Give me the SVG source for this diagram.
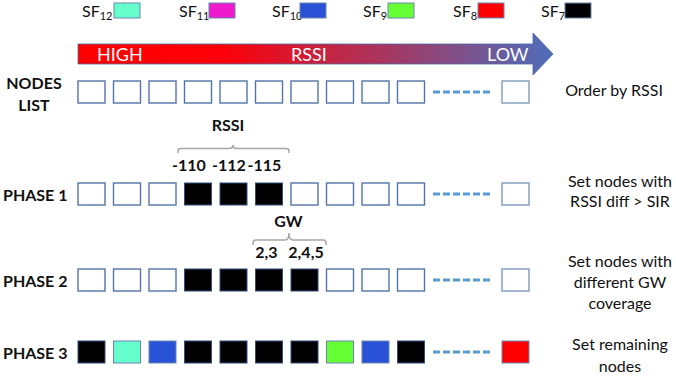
<svg xmlns="http://www.w3.org/2000/svg" width="676" height="377" viewBox="0 0 676 377">
<defs>
<linearGradient id="rssiGrad" gradientUnits="userSpaceOnUse" x1="78" y1="0" x2="553" y2="0">
<stop offset="0" stop-color="#FF0000"/>
<stop offset="0.3" stop-color="#FE0008"/>
<stop offset="1" stop-color="#4E6EBB"/>
</linearGradient>
<style>
text{font-family:Lato,"Liberation Sans",sans-serif;fill:#111}
.lbl{font-size:16px;font-weight:bold}
.desc{font-size:16px;text-anchor:middle}
.num{font-size:16px;font-weight:bold}
.sf{font-size:16px}
.sub{font-size:11px}
.arr{font-size:18px;fill:#fff}
.box{fill:#fff;stroke:#5274A8;stroke-width:1.4}
.last{fill:#fff;stroke:#8EA6C8;stroke-width:1.6}
.blk{fill:#000;stroke:#2F4F7F;stroke-width:1}
.leg{stroke:#6B85B0;stroke-width:1}
.dash{stroke:#5B9BD5;stroke-width:3;stroke-dasharray:7 3;fill:none}
.brace{stroke:#A6A6A6;stroke-width:1.5;fill:none}
</style>
</defs>

<g id="legend">
<g id="sf12"><text class="sf" x="82" y="17">SF<tspan class="sub" dy="3">12</tspan></text><rect class="leg" x="114" y="3" width="26" height="15" fill="#66FFCC"/></g>
<g id="sf11"><text class="sf" x="179" y="17">SF<tspan class="sub" dy="3">11</tspan></text><rect class="leg" x="209" y="3" width="26" height="15" fill="#EE1ACC"/></g>
<g id="sf10"><text class="sf" x="272" y="17">SF<tspan class="sub" dy="3">10</tspan></text><rect class="leg" x="300" y="3" width="26" height="15" fill="#2A52D6"/></g>
<g id="sf9"><text class="sf" x="363" y="17">SF<tspan class="sub" dy="3">9</tspan></text><rect class="leg" x="388" y="3" width="26" height="15" fill="#66FF33"/></g>
<g id="sf8"><text class="sf" x="453" y="17">SF<tspan class="sub" dy="3">8</tspan></text><rect class="leg" x="478" y="3" width="26" height="15" fill="#FF0000"/></g>
<g id="sf7"><text class="sf" x="541" y="17">SF<tspan class="sub" dy="3">7</tspan></text><rect class="leg" x="565" y="3" width="26" height="15" fill="#000000"/></g>
</g>

<g id="rssi-arrow">
<path d="M78,44 H533 V33 L553,54 L533,75 V64 H78 Z" fill="url(#rssiGrad)" stroke="#4A6AA8" stroke-width="0.8"/>
<text class="arr" x="97" y="61">HIGH</text>
<text class="arr" x="291" y="61">RSSI</text>
<text class="arr" x="487" y="61">LOW</text>
</g>

<g id="nodes-list">
<text class="lbl" x="34" y="89" text-anchor="middle">NODES</text>
<text class="lbl" x="34" y="111" text-anchor="middle">LIST</text>
<rect class="box" x="78" y="81" width="27" height="22"/>
<rect class="box" x="113.5" y="81" width="27" height="22"/>
<rect class="box" x="149" y="81" width="27" height="22"/>
<rect class="box" x="184.5" y="81" width="27" height="22"/>
<rect class="box" x="220" y="81" width="27" height="22"/>
<rect class="box" x="255.5" y="81" width="27" height="22"/>
<rect class="box" x="291" y="81" width="27" height="22"/>
<rect class="box" x="326.5" y="81" width="27" height="22"/>
<rect class="box" x="362" y="81" width="27" height="22"/>
<rect class="box" x="397.5" y="81" width="27" height="22"/>
<rect class="last" x="502" y="81" width="27" height="22"/>
<text class="desc" x="614" y="96">Order by RSSI</text>
</g>

<g id="rssi-annotation">
<text class="num" x="228" y="131" text-anchor="middle">RSSI</text>
<text class="num" x="189" y="171" text-anchor="middle">-110</text>
<text class="num" x="229" y="171" text-anchor="middle">-112</text>
<text class="num" x="264.5" y="171" text-anchor="middle">-115</text>
</g>

<g id="phase1">
<text class="lbl" x="3" y="201">PHASE 1</text>
<rect class="box" x="78" y="183" width="27" height="22"/>
<rect class="box" x="113.5" y="183" width="27" height="22"/>
<rect class="box" x="149" y="183" width="27" height="22"/>
<rect class="blk" x="184.5" y="183" width="27" height="22"/>
<rect class="blk" x="220" y="183" width="27" height="22"/>
<rect class="blk" x="255.5" y="183" width="27" height="22"/>
<rect class="box" x="291" y="183" width="27" height="22"/>
<rect class="box" x="326.5" y="183" width="27" height="22"/>
<rect class="box" x="362" y="183" width="27" height="22"/>
<rect class="box" x="397.5" y="183" width="27" height="22"/>
<rect class="last" x="502" y="183" width="27" height="22"/>
<text class="desc" x="620" y="187">Set nodes with</text>
<text class="desc" x="620" y="207">RSSI diff &gt; SIR</text>
</g>

<g id="gw-annotation">
<text class="num" x="288.5" y="227" text-anchor="middle">GW</text>
<text class="num" x="266.5" y="258" text-anchor="middle">2,3</text>
<text class="num" x="306" y="258" text-anchor="middle">2,4,5</text>
</g>

<g id="phase2">
<text class="lbl" x="3" y="287">PHASE 2</text>
<rect class="box" x="78" y="269" width="27" height="22"/>
<rect class="box" x="113.5" y="269" width="27" height="22"/>
<rect class="box" x="149" y="269" width="27" height="22"/>
<rect class="blk" x="184.5" y="269" width="27" height="22"/>
<rect class="blk" x="220" y="269" width="27" height="22"/>
<rect class="blk" x="255.5" y="269" width="27" height="22"/>
<rect class="blk" x="291" y="269" width="27" height="22"/>
<rect class="box" x="326.5" y="269" width="27" height="22"/>
<rect class="box" x="362" y="269" width="27" height="22"/>
<rect class="box" x="397.5" y="269" width="27" height="22"/>
<rect class="last" x="502" y="269" width="27" height="22"/>
<text class="desc" x="620" y="267">Set nodes with</text>
<text class="desc" x="620" y="288">different GW</text>
<text class="desc" x="620" y="309">coverage</text>
</g>

<g id="phase3">
<text class="lbl" x="3" y="359">PHASE 3</text>
<rect class="blk" x="78" y="341" width="27" height="22"/>
<rect class="leg" x="113.5" y="341" width="27" height="22" fill="#66FFCC"/>
<rect class="leg" x="149" y="341" width="27" height="22" fill="#2A52D6"/>
<rect class="blk" x="184.5" y="341" width="27" height="22"/>
<rect class="blk" x="220" y="341" width="27" height="22"/>
<rect class="blk" x="255.5" y="341" width="27" height="22"/>
<rect class="blk" x="291" y="341" width="27" height="22"/>
<rect class="leg" x="326.5" y="341" width="27" height="22" fill="#66FF33"/>
<rect class="leg" x="362" y="341" width="27" height="22" fill="#2A52D6"/>
<rect class="blk" x="397.5" y="341" width="27" height="22"/>
<rect class="leg" x="502" y="341" width="27" height="22" fill="#FF0000"/>
<text class="desc" x="620" y="350">Set remaining</text>
<text class="desc" x="620" y="372">nodes</text>
</g>

<g id="connectors">
<path class="dash" d="M433,92 H492"/>
<path class="dash" d="M433,194 H492"/>
<path class="dash" d="M433,280 H492"/>
<path class="dash" d="M433,352 H492"/>
<path class="brace" d="M178,153 V151 Q178,148.5 181,148.5 H229 Q233,148.5 233,145 Q233,148.5 237,148.5 H286 Q289,148.5 289,151 V153"/>
<path class="brace" d="M253,245 V243 Q253,240 256,240 H285 Q289,240 289,233 Q289,240 293,240 H323 Q326,240 326,243 V245"/>
</g>
</svg>
